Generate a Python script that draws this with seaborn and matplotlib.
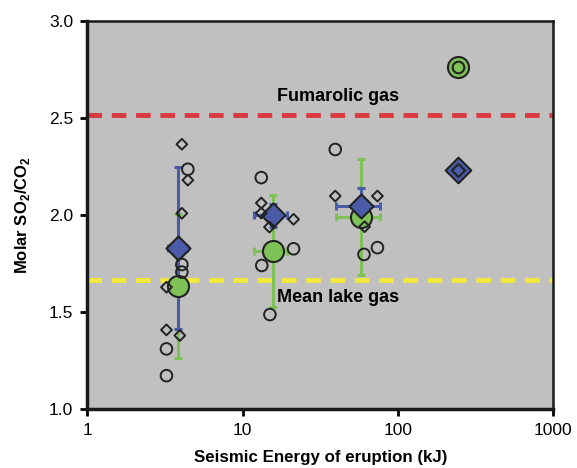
import pandas as pd
import matplotlib
matplotlib.use('Agg')
import matplotlib.pyplot as plt
import seaborn as sns
import numpy as np

sns.set_style("white")
plt.rcParams['font.family'] = ['Liberation Sans', 'DejaVu Sans']
plt.rcParams['mathtext.fontset'] = 'custom'
plt.rcParams['mathtext.rm'] = 'Liberation Sans'
plt.rcParams['mathtext.bf'] = 'Liberation Sans:bold'
plt.rcParams['text.color'] = 'black'
plt.rcParams['axes.labelcolor'] = 'black'
plt.rcParams['xtick.color'] = 'black'
plt.rcParams['ytick.color'] = 'black'

# individual measurements
circ_x = [4.45, 4.07, 4.07, 3.24, 3.24, 13.2, 21.3, 13.3, 15.0, 39.5, 73.8, 60.5]
circ_y = [2.236, 1.745, 1.706, 1.31, 1.172, 2.193, 1.826, 1.74, 1.487, 2.338, 1.832, 1.797]
diam_x = [4.07, 4.45, 4.07, 3.24, 3.24, 3.95, 13.2, 13.2, 21.3, 14.9, 39.5, 73.8, 61.0]
diam_y = [2.365, 2.18, 2.009, 1.628, 1.408, 1.379, 2.062, 2.01, 1.978, 1.938, 2.098, 2.098, 1.94]

# group means
green_x = [3.82, 15.6, 58.0]
green_y = [1.633, 1.814, 1.99]
green_yerr = [0.37, 0.29, 0.30]
green_xlo = [3.82, 11.8, 40.1]
green_xhi = [3.82, 19.3, 76.3]
blue_x = [3.82, 15.6, 58.0]
blue_y = [1.83, 1.998, 2.045]
blue_yerr = [0.42, 0.06, 0.095]
blue_xlo = [3.32, 11.8, 40.1]
blue_xhi = [4.4, 19.3, 76.3]

# large eruption
big_x = [242.0]
big_green = [2.761]
big_blue = [2.234]

fumarolic = 2.518
lake = 1.663

green = '#7dc157'
blue = '#4a5ba8'

fig = plt.figure(figsize=(5.77, 4.68), dpi=100)
ax = fig.add_axes([0.151, 0.126, 0.808, 0.829])
ax.set_facecolor('#c0c0c0')

ax.axhline(fumarolic, color='#d9393f', lw=3.5, dashes=(3, 2), zorder=1)
ax.axhline(lake, color='#f2ea3a', lw=3.5, dashes=(3, 2), zorder=1)

gx = np.array(green_x)
ax.errorbar(green_x, green_y, yerr=green_yerr,
            xerr=[gx - np.array(green_xlo), np.array(green_xhi) - gx],
            fmt='none', ecolor=green, elinewidth=2.2, capsize=3, capthick=2.2, zorder=2)
bx = np.array(blue_x)
ax.errorbar(blue_x, blue_y, yerr=blue_yerr,
            xerr=[bx - np.array(blue_xlo), np.array(blue_xhi) - bx],
            fmt='none', ecolor=blue, elinewidth=2.2, capsize=3, capthick=2.2, zorder=3)

sns.scatterplot(x=green_x, y=green_y, ax=ax, marker='o', s=230, color=green,
                edgecolor='#222222', linewidth=1.5, zorder=4)
sns.scatterplot(x=blue_x, y=blue_y, ax=ax, marker='D', s=150, color=blue,
                edgecolor='#222222', linewidth=1.5, zorder=5)

sns.scatterplot(x=circ_x, y=circ_y, ax=ax, marker='o', s=70, facecolor='none',
                edgecolor='#222222', linewidth=1.4, zorder=6)
sns.scatterplot(x=diam_x, y=diam_y, ax=ax, marker='D', s=30, facecolor='none',
                edgecolor='#222222', linewidth=1.4, zorder=6)

sns.scatterplot(x=big_x, y=big_green, ax=ax, marker='o', s=230, color=green,
                edgecolor='#222222', linewidth=1.5, zorder=7)
sns.scatterplot(x=big_x, y=big_green, ax=ax, marker='o', s=70, color=green,
                edgecolor='#222222', linewidth=1.5, zorder=8)
sns.scatterplot(x=big_x, y=big_blue, ax=ax, marker='D', s=170, color=blue,
                edgecolor='#222222', linewidth=1.5, zorder=7)
sns.scatterplot(x=big_x, y=big_blue, ax=ax, marker='D', s=45, color=blue,
                edgecolor='#222222', linewidth=1.5, zorder=8)

ax.text(16.7, 2.613, 'Fumarolic gas', fontsize=13, fontweight='bold', va='center', ha='left')
ax.text(16.7, 1.577, 'Mean lake gas', fontsize=13, fontweight='bold', va='center', ha='left')

ax.set_xscale('log')
ax.set_xlim(1, 1000)
ax.set_ylim(1.0, 3.0)
ax.set_xticks([1, 10, 100, 1000])
ax.set_xticklabels(['1', '10', '100', '1000'])
ax.minorticks_off()
ax.set_yticks([1.0, 1.5, 2.0, 2.5, 3.0])
ax.set_yticklabels(['1.0', '1.5', '2.0', '2.5', '3.0'])
ax.tick_params(direction='out', length=5, width=2, labelsize=12.5, left=True, bottom=True, pad=5)

for side in ['left', 'bottom']:
    ax.spines[side].set_linewidth(2.5)
for side in ['top', 'right']:
    ax.spines[side].set_linewidth(1.8)
for sp in ax.spines.values():
    sp.set_color('#1a1a1a')

ax.set_xlabel('Seismic Energy of eruption (kJ)', fontsize=12.2, fontweight='bold', labelpad=9)
ax.set_ylabel(r'Molar SO$_\mathbf{2}$/CO$_\mathbf{2}$', fontsize=12, fontweight='bold', labelpad=12)

plt.savefig('out.png', dpi=100)
